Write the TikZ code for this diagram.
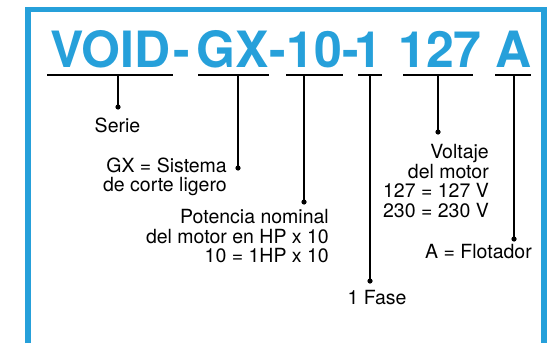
\documentclass[tikz,border=0pt]{standalone}
\usepackage{fontspec}
\setmainfont{TeX Gyre Heros}
\definecolor{voidblue}{RGB}{38,160,218}
\tikzset{
    frame/.style={draw=voidblue, line width=5.5pt},
    code/.style={anchor=base, inner sep=0pt, text=voidblue, font=\fontsize{50}{50}\selectfont\bfseries},
    rule/.style={line width=2.4pt},
    stem/.style={line width=2pt},
    lbl/.style={inner sep=0pt, align=right, font=\fontsize{19.5}{19.5}\selectfont},
}

\begin{document}
\begin{tikzpicture}[x=1pt,y=-1pt]
\useasboundingbox (0,0) rectangle (553,343);
\draw[frame] (28,343)--(28,9.5)--(544,9.5)--(544,343);
% model code
\node[code] (void) at (110.5,67) {VOID};
\node[code] (h1) at (181.5,67) {-};
\node[code] (gx) at (232.5,67) {GX};
\node[code] (h2) at (278,67) {-};
\node[code] (hp) at (314.5,67) {10};
\node[code] (h3) at (351,67) {-};
\node[code] (fase) at (368,67) {1};
\node[code] (volt) at (440,67) {127};
\node[code] (flot) at (514,67) {A};
% underlines
\draw[rule] (47,75)--(173,75);
\draw[rule] (198,75)--(269,75);
\draw[rule] (286,75)--(343,75);
\draw[rule] (358,75)--(382,75);
\draw[rule] (403,75)--(473,75);
\draw[rule] (495,75)--(531,75);
\coordinate (u-void) at (118,75);
\coordinate (u-gx) at (238,75);
\coordinate (u-hp) at (304,75);
\coordinate (u-fase) at (370,75);
\coordinate (u-volt) at (438,75);
\coordinate (u-flot) at (514,75);
% dots
\coordinate (d-void) at (118,107);
\coordinate (d-gx) at (238,168);
\coordinate (d-hp) at (304,202);
\coordinate (d-fase) at (370,281);
\coordinate (d-volt) at (438,132);
\coordinate (d-flot) at (514,239);
% labels (base = last line)
\node[lbl, anchor=base] (serie) at (117.5,132) {Serie};
\node[lbl, anchor=base east] (sistema) at (227,191.5) {GX = Sistema\\de corte ligero};
\node[lbl, anchor=base east] (potencia) at (329,262.5) {Potencia nominal\\del motor en HP x 10\\10 = 1HP x 10};
\node[lbl, anchor=base] (fasetxt) at (377,304) {1 Fase};
\node[lbl, anchor=base east] (voltaje) at (489,217) {Voltaje\\del motor\\127 = 127 V\\230 = 230 V};
\node[lbl, anchor=base east] (flotador) at (532,258) {A = Flotador};
% stems
\foreach \k in {void,gx,hp,fase,volt,flot}{
    \draw[stem] (u-\k)--(d-\k);
    \fill (d-\k) circle[radius=2.6pt];
}
\end{tikzpicture}
\end{document}
